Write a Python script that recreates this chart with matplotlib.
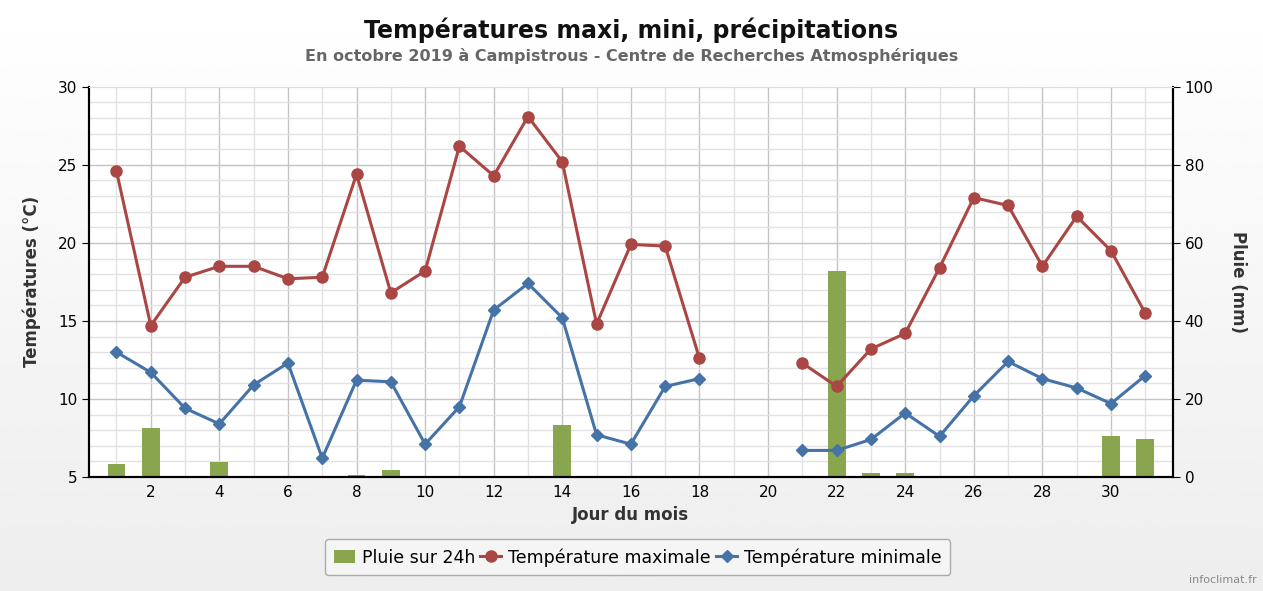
import numpy as np
from matplotlib import pyplot as plt
from matplotlib.ticker import MultipleLocator

days = np.arange(1, 32)
nan = np.nan
t_max = [24.6, 14.7, 17.8, 18.5, 18.5, 17.7, 17.8, 24.4, 16.8, 18.2,
         26.2, 24.3, 28.1, 25.2, 14.8, 19.9, 19.8, 12.6, nan, nan,
         12.3, 10.8, 13.2, 14.2, 18.4, 22.9, 22.4, 18.5, 21.7, 19.5, 15.5]
t_min = [13.0, 11.7, 9.4, 8.4, 10.9, 12.3, 6.2, 11.2, 11.1, 7.1,
         9.5, 15.7, 17.4, 15.2, 7.7, 7.1, 10.8, 11.3, nan, nan,
         6.7, 6.7, 7.4, 9.1, 7.6, 10.2, 12.4, 11.3, 10.7, 9.7, 11.5]
rain = [3.3, 12.5, 0, 3.8, 0, 0, 0, 0.6, 1.8, 0,
        0, 0, 0, 13.3, 0, 0, 0, 0, 0, 0,
        0, 52.9, 1.0, 1.0, 0, 0, 0, 0, 0, 10.6, 9.8]

c_rain = '#89a54e'
c_max = '#aa4643'
c_min = '#4572a7'

fig = plt.figure(figsize=(12.63, 5.91), dpi=100)

# light grey gradient background
bg = fig.add_axes([0, 0, 1, 1], zorder=-10)
grad = np.linspace(1.0, 0.93, 256).reshape(-1, 1)
bg.imshow(grad, aspect='auto', cmap='gray', vmin=0, vmax=1, extent=[0, 1, 0, 1])
bg.axis('off')

ax = fig.add_axes([0.0705, 0.193, 0.858, 0.660])
ax2 = ax.twinx()

# rain bars on right axis
ax2.bar(days, rain, width=0.52, color=c_rain, zorder=2, label='Pluie sur 24h')
ax2.set_ylim(0, 100)
ax2.yaxis.set_major_locator(MultipleLocator(20))

ax.set_zorder(ax2.get_zorder() + 1)
ax.patch.set_visible(False)
ax2.patch.set_visible(True)
ax2.patch.set_facecolor('white')

ax.plot(days, t_max, color=c_max, lw=2.2, marker='o', ms=8, label='Température maximale', zorder=3)
ax.plot(days, t_min, color=c_min, lw=2.2, marker='D', ms=6, label='Température minimale', zorder=3)

ax.set_xlim(0.2, 31.8)
ax.set_ylim(5, 30)
ax.xaxis.set_major_locator(MultipleLocator(2))
ax.xaxis.set_minor_locator(MultipleLocator(1))
ax.yaxis.set_major_locator(MultipleLocator(5))
ax.yaxis.set_minor_locator(MultipleLocator(1))

# grid drawn on the lower (bar) axes so it sits behind bars
ax2.set_xlim(0.2, 31.8)
for x in range(1, 32):
    ax2.axvline(x, color='#c4c4c4' if x % 2 == 0 else '#e2e2e2', lw=1, zorder=0)
for t in range(6, 30):
    yv = (t - 5) * 4
    ax2.axhline(yv, color='#c4c4c4' if t % 5 == 0 else '#e2e2e2', lw=1, zorder=0)

ax.tick_params(axis='x', which='both', length=0, labelsize=11, pad=6)
ax.tick_params(axis='y', which='minor', length=0)
ax.tick_params(axis='y', which='major', length=5, labelsize=11)
ax2.tick_params(axis='y', length=5, labelsize=11)

for a in (ax, ax2):
    a.spines['top'].set_color('#dddddd')
    a.spines['left'].set_linewidth(1.5)
    a.spines['right'].set_linewidth(1.5)
    a.spines['bottom'].set_linewidth(1.5)

ax.set_xlabel('Jour du mois', fontsize=12, fontweight='bold', color='#333333', labelpad=4)
ax.set_ylabel('Températures (°C)', fontsize=12, fontweight='bold', color='#333333', labelpad=12)
ax2.set_ylabel('Pluie (mm)', fontsize=12, fontweight='bold', color='#333333', rotation=270, labelpad=24)

fig.text(0.5, 0.948, 'Températures maxi, mini, précipitations', ha='center', va='center',
         fontsize=17, fontweight='bold', color='#111111')
fig.text(0.5, 0.906, 'En octobre 2019 à Campistrous - Centre de Recherches Atmosphériques',
         ha='center', va='center', fontsize=11.5, fontweight='bold', color='#666666')
fig.text(0.995, 0.01, 'infoclimat.fr', ha='right', va='bottom', fontsize=8, color='#888888')

h1, l1 = ax2.get_legend_handles_labels()
h2, l2 = ax.get_legend_handles_labels()
leg = fig.legend(h1 + h2, l1 + l2, loc='center', bbox_to_anchor=(0.505, 0.057), ncol=3,
                 fontsize=12.5, frameon=True, fancybox=True, handlelength=1.2,
                 columnspacing=0.3, handletextpad=0.4, borderpad=0.5)
leg.get_frame().set_edgecolor('#999999')
leg.get_frame().set_facecolor('#f7f7f7')

fig.savefig('out.png', dpi=100)
